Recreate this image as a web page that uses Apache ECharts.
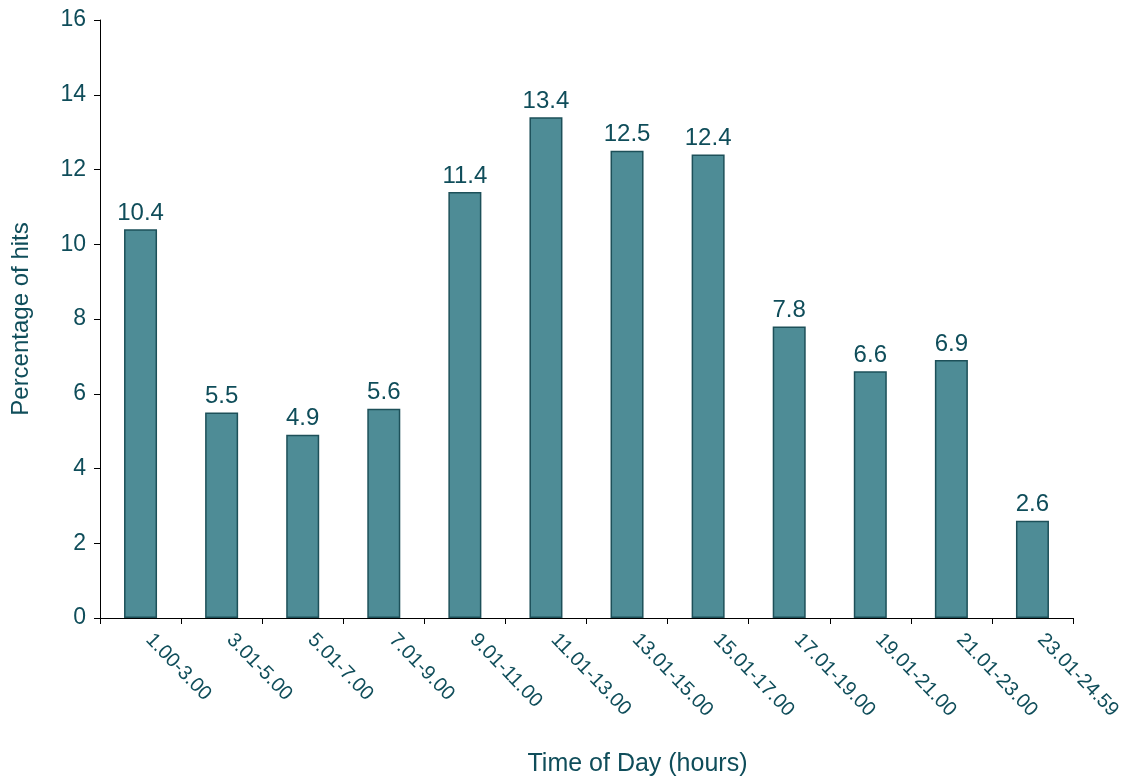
<!DOCTYPE html>
<html lang="en">
<head>
<meta charset="UTF-8">
<title>Hits by time of day</title>
<script src="https://cdn.jsdelivr.net/npm/echarts@6/dist/echarts.min.js"></script>
<style>
body{margin:0;background:#fff;}
#chart{width:1129px;height:778px;}
</style>
</head>
<body>
<div id="chart"></div>
<script>
var categories = ['1.00-3.00','3.01-5.00','5.01-7.00','7.01-9.00','9.01-11.00','11.01-13.00',
    '13.01-15.00','15.01-17.00','17.01-19.00','19.01-21.00','21.01-23.00','23.01-24.59'];
var hits = [10.4, 5.5, 4.9, 5.6, 11.4, 13.4, 12.5, 12.4, 7.8, 6.6, 6.9, 2.6];

var textColor = '#0f4d5a';
var font = 'Liberation Sans, Arial, sans-serif';

var chart = echarts.init(document.getElementById('chart'));
chart.setOption({
    animation: false,
    grid: {left: 100, right: 56, top: 20, bottom: 160, outerBoundsMode: 'none', containLabel: false},
    xAxis: {
        type: 'category',
        data: categories,
        name: 'Time of Day (hours)',
        nameLocation: 'middle',
        nameGap: 134,
        nameTextStyle: {color: textColor, fontSize: 25, fontFamily: font, padding: [0, 0, 0, 102]},
        axisLine: {lineStyle: {color: '#000', width: 1}},
        axisTick: {show: true, inside: false, length: 6, lineStyle: {color: '#000'}},
        axisLabel: {rotate: -46, color: textColor, fontSize: 20, fontFamily: font, margin: 10,
            padding: [0, 0, 0, 12], interval: 0}
    },
    yAxis: {
        type: 'value',
        min: 0, max: 16, interval: 2,
        name: 'Percentage of hits',
        nameLocation: 'middle',
        nameGap: 67,
        nameTextStyle: {color: textColor, fontSize: 24, fontFamily: font},
        axisLine: {show: true, lineStyle: {color: '#000', width: 1}},
        axisTick: {show: true, inside: false, length: 6, lineStyle: {color: '#000'}},
        axisLabel: {color: textColor, fontSize: 23, fontFamily: font, margin: 14},
        splitLine: {show: false}
    },
    series: [{
        type: 'bar',
        data: hits,
        barWidth: 33,
        itemStyle: {color: '#4e8c96', borderColor: '#1d5059', borderWidth: 1.5},
        label: {show: true, position: 'top', distance: 4, color: textColor, fontSize: 24, fontFamily: font}
    }]
});
</script>
</body>
</html>
